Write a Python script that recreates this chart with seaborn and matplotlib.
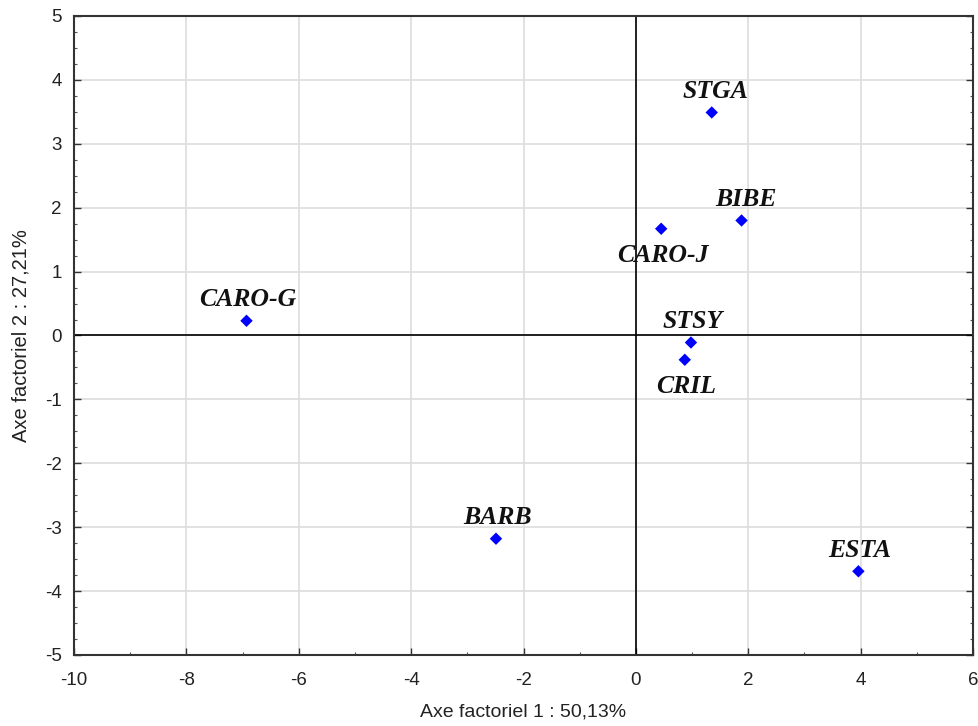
import matplotlib
matplotlib.use("Agg")
import matplotlib.pyplot as plt
import seaborn as sns
import pandas as pd
from matplotlib.ticker import MultipleLocator

# individuals on the first factorial plane
labels = ["STGA", "BIBE", "CARO-J", "CARO-G", "STSY", "CRIL", "BARB", "ESTA"]
axe1 = [1.35, 1.88, 0.45, -6.93, 0.98, 0.87, -2.49, 3.96]
axe2 = [3.49, 1.80, 1.67, 0.23, -0.11, -0.38, -3.18, -3.69]

df = pd.DataFrame({"label": labels, "axe1": axe1, "axe2": axe2})

sns.set_theme(style="white")
plt.rcParams['font.family'] = ['Liberation Sans', 'DejaVu Sans']
plt.rcParams['axes.unicode_minus'] = False

fig = plt.figure(figsize=(9.79, 7.26), dpi=100)
ax = fig.add_axes([0.0756, 0.0978, 0.9183, 0.8802])

ax.axhline(0, color='black', lw=1.2, zorder=1)
ax.axvline(0, color='black', lw=1.2, zorder=1)

sns.scatterplot(data=df, x="axe1", y="axe2", marker="D", color="#0000ff",
                s=40, edgecolor="none", ax=ax, zorder=3)

# label offsets in points (below for CARO-J and CRIL)
below = {"CARO-J", "CRIL"}
for _, r in df.iterrows():
    dy = -19.5 if r["label"] in below else 15
    dx = 1 if r["label"] not in ("STGA", "BIBE") else 3
    ax.annotate(r["label"], (r["axe1"], r["axe2"]), xytext=(dx, dy),
                textcoords="offset points", ha="center", va="center",
                fontsize=18.5, fontweight="bold", fontstyle="italic",
                family="Liberation Serif", color="#111111", zorder=4)

ax.set_xlim(-10, 6)
ax.set_ylim(-5, 5)
ax.xaxis.set_major_locator(MultipleLocator(2))
ax.xaxis.set_minor_locator(MultipleLocator(1))
ax.yaxis.set_major_locator(MultipleLocator(1))
ax.yaxis.set_minor_locator(MultipleLocator(0.25))
ax.grid(True, which="major", color="#dddddd", lw=1.2, zorder=0)
ax.set_axisbelow(True)

ax.tick_params(which="major", direction="in", length=5, width=1, colors="#333333",
               labelsize=13.5, labelcolor="#222222", top=False, right=True,
               bottom=True, left=True, pad=9)
ax.tick_params(which="minor", direction="in", length=2.5, width=0.8,
               colors="#555555", right=True, bottom=True, left=True)
ax.tick_params(axis="x", which="major", pad=12)

for sp in ax.spines.values():
    sp.set_color("#333333")
    sp.set_linewidth(1.5)

ax.set_xlabel("Axe factoriel 1 : 50,13%", fontsize=14, color="#222222", labelpad=11)
ax.set_ylabel("Axe factoriel 2 : 27,21%", fontsize=14.5, color="#222222", labelpad=10)

fig.savefig("out.png", dpi=100)
